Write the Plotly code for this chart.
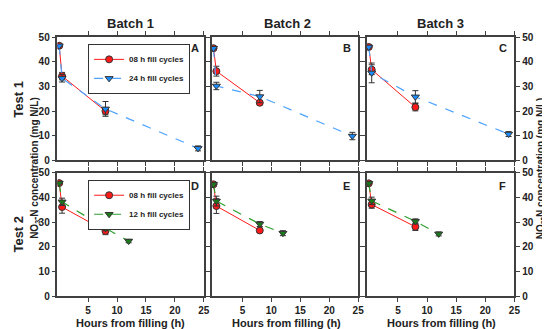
import plotly.graph_objects as go

W, H = 550, 329

# ---- data ----
hours_08 = [0, 0.5, 8]
hours_24 = [0, 0.5, 8, 24]
hours_12 = [0, 0.5, 8, 12]

# Test 1 (08 h vs 24 h)
t1_08 = {"A": [46.5, 34.2, 20.0], "B": [45.5, 36.2, 23.4], "C": [46.0, 36.8, 21.6]}
t1_08_err = {"A": [0, 1.5, 1.5], "B": [0, 2.0, 0.8], "C": [0, 2.0, 1.5]}
t1_24 = {"A": [46.5, 33.3, 20.9, 4.9], "B": [45.5, 30.2, 25.9, 9.9], "C": [46.0, 35.5, 25.8, 10.7]}
t1_24_err = {"A": [0, 1.5, 3.0, 1.0], "B": [0, 1.5, 2.5, 1.5], "C": [0, 4.0, 2.5, 1.0]}

# Test 2 (08 h vs 12 h)
t2_08 = {"D": [45.9, 36.2, 26.5], "E": [45.4, 36.6, 26.7], "F": [45.8, 37.2, 28.2]}
t2_08_err = {"D": [0, 2.5, 1.5], "E": [0, 3.0, 0.8], "F": [0, 1.5, 1.5]}
t2_12 = {"D": [45.9, 38.3, 27.6, 22.4], "E": [45.4, 38.6, 29.3, 25.6], "F": [45.8, 38.7, 30.4, 25.3]}
t2_12_err = {"D": [0, 1.5, 1.0, 0.7], "E": [0, 2.0, 1.0, 1.0], "F": [0, 1.5, 1.0, 0.8]}

batches = ["Batch 1", "Batch 2", "Batch 3"]
xticks = [5, 10, 15, 20, 25]
yticks = [0, 10, 20, 30, 40, 50]

# ---- styling ----
RED = "#ff1a1a"
BLUE_LINE = "#4da3ff"
BLUE_MK = "#1a8cff"
GREEN_LINE = "#2ea02e"
GREEN_MK = "#1a7a1a"
AX = "#404040"
FONT = "Liberation Sans, Arial, sans-serif"

xdoms = [(50 / W, 198 / W), (206 / W, 354 / W), (363 / W, 512 / W)]
ydoms = [(1 - 152 / H, 1 - 24 / H), (1 - 293 / H, 1 - 165 / H)]

fig = go.Figure()

def err(vals):
    return dict(type="data", array=vals, visible=True, color="#333333", thickness=1, width=3)

panels = [("A", 0, 0), ("B", 0, 1), ("C", 0, 2), ("D", 1, 0), ("E", 1, 1), ("F", 1, 2)]
for k, (p, r, c) in enumerate(panels):
    idx = k + 1
    xa = "x" if idx == 1 else f"x{idx}"
    ya = "y" if idx == 1 else f"y{idx}"
    if r == 0:
        red_y, red_e = t1_08[p], t1_08_err[p]
        oth_x, oth_y, oth_e = hours_24, t1_24[p], t1_24_err[p]
        oth_line, oth_mk, oth_name = BLUE_LINE, BLUE_MK, "24 h fill cycles"
        leg = "legend"
    else:
        red_y, red_e = t2_08[p], t2_08_err[p]
        oth_x, oth_y, oth_e = hours_12, t2_12[p], t2_12_err[p]
        oth_line, oth_mk, oth_name = GREEN_LINE, GREEN_MK, "12 h fill cycles"
        leg = "legend2"
    show = (c == 0)
    fig.add_trace(go.Scatter(
        x=hours_08, y=red_y, error_y=err(red_e), mode="lines+markers",
        line=dict(color=RED, width=1),
        marker=dict(symbol="circle", size=7, color=RED, line=dict(color="#333333", width=1)),
        name="08 h fill cycles", showlegend=show, legend=leg, xaxis=xa, yaxis=ya))
    fig.add_trace(go.Scatter(
        x=oth_x, y=oth_y, error_y=err(oth_e), mode="lines+markers",
        line=dict(color=oth_line, width=1.2, dash="dash"),
        marker=dict(symbol="triangle-down", size=7, color=oth_mk, line=dict(color="#333333", width=1)),
        name=oth_name, showlegend=show, legend=leg, xaxis=xa, yaxis=ya))

    xkey = "xaxis" if idx == 1 else f"xaxis{idx}"
    ykey = "yaxis" if idx == 1 else f"yaxis{idx}"
    fig.layout[xkey] = dict(
        domain=xdoms[c], anchor=ya, range=[-0.3, 25], tickvals=xticks,
        showticklabels=(r == 1), ticks="outside", ticklen=4, tickcolor=AX, tickwidth=1,
        showline=True, linecolor=AX, linewidth=1.5, mirror="ticks", showgrid=False, zeroline=False,
        tickfont=dict(family=FONT, size=10, color="#222222", weight="bold"))
    fig.layout[ykey] = dict(
        domain=ydoms[r], anchor=xa, range=[0, 50], tickvals=yticks,
        showticklabels=(c != 1), side=("right" if c == 2 else "left"),
        ticks="outside", ticklen=4, tickcolor=AX, tickwidth=1,
        showline=True, linecolor=AX, linewidth=1.5, mirror="ticks", showgrid=False, zeroline=False,
        tickfont=dict(family=FONT, size=10, color="#222222", weight="bold"))

ann = []
def px(x, y, text, size=11, angle=0, xa="center"):
    ann.append(dict(x=x / W, y=1 - y / H, xref="paper", yref="paper", text=text, showarrow=False,
                    textangle=angle, xanchor=xa, yanchor="middle",
                    font=dict(family=FONT, size=size, color="#222222", weight="bold")))

for (b, xc) in zip(batches, [124, 283, 437]):
    px(xc, 10, b, size=13)
px(11, 88, "Test 1", size=13, angle=-90)
px(11, 228, "Test 2", size=13, angle=-90)
ytitle = "NO<sub>3</sub>-N concentration (mg N/L)"
px(27, 160, ytitle, size=10, angle=-90)
px(539, 160, ytitle, size=10, angle=-90)
for xc in [124, 282, 438]:
    px(xc, 321, "Hours from filling (h)", size=11)
for lab, xx, yy in [("A", 189, 35), ("B", 343, 35), ("C", 500, 35), ("D", 189, 179), ("E", 342, 179), ("F", 500, 179)]:
    px(xx, yy, lab, size=11)

legfont = dict(family=FONT, size=8, color="#222222", weight="bold")
fig.update_layout(
    width=W, height=H, margin=dict(l=0, r=0, t=0, b=0),
    paper_bgcolor="white", plot_bgcolor="white", annotations=ann,
    legend=dict(x=81 / W, y=1 - 31 / H, xanchor="left", yanchor="top", bordercolor="#333333",
                borderwidth=1, bgcolor="white", font=legfont, tracegroupgap=0, itemwidth=30),
    legend2=dict(x=81 / W, y=1 - 172 / H, xanchor="left", yanchor="top", bordercolor="#333333",
                 borderwidth=1, bgcolor="white", font=legfont, tracegroupgap=0, itemwidth=30),
)

fig.write_html("out.html")
